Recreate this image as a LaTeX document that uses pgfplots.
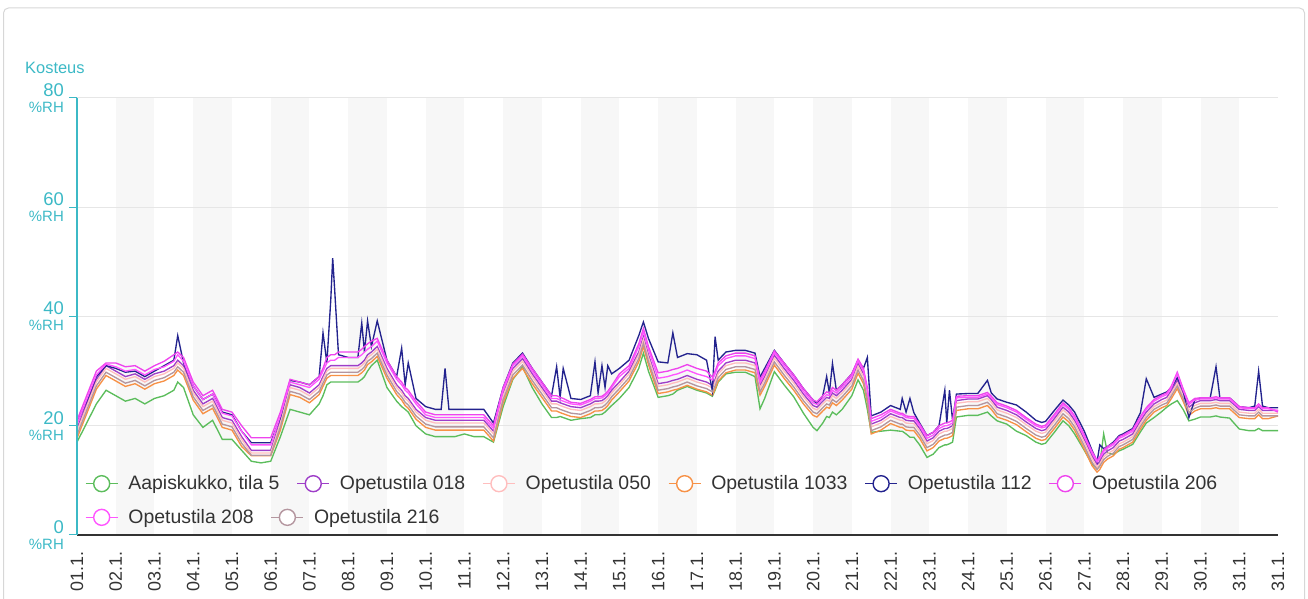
\documentclass[border=0pt]{standalone}
\usepackage{fontspec}
\setmainfont{Liberation Sans}
\usepackage{pgfplots}
\pgfplotsset{compat=1.18}
\usepackage{pgfplotstable}

\definecolor{tealc}{RGB}{60,185,198}
\definecolor{textc}{RGB}{51,51,51}
\definecolor{axisc}{RGB}{51,51,51}
\definecolor{bandc}{RGB}{247,247,247}
\definecolor{gridc}{RGB}{230,230,230}
\definecolor{framec}{RGB}{215,215,215}
\definecolor{cA}{RGB}{92,189,92}
\definecolor{cB}{RGB}{158,62,200}
\definecolor{cC}{RGB}{255,190,190}
\definecolor{cD}{RGB}{247,145,70}
\definecolor{cE}{RGB}{35,35,142}
\definecolor{cF}{RGB}{238,68,238}
\definecolor{cG}{RGB}{255,85,255}
\definecolor{cH}{RGB}{180,150,159}

\pgfplotstableread{
x A B C D E F G H
0.00 17.0 19.5 19.0 17.7 20.5 21.0 20.3 18.3
0.25 20.5 24.0 23.5 22.2 24.5 25.5 24.8 22.8
0.50 24.0 28.5 28.0 26.7 29.0 30.0 29.3 27.3
0.75 26.5 31.0 30.5 29.2 31.0 31.5 31.3 29.8
1.00 25.5 30.0 29.5 28.2 30.5 31.5 30.8 28.8
1.25 24.5 29.0 28.5 27.2 29.8 30.8 30.0 27.8
1.50 25.0 29.5 29.0 27.7 30.0 31.0 30.3 28.3
1.75 24.0 28.5 28.0 26.7 29.0 30.0 29.3 27.3
2.00 25.0 29.5 29.0 27.7 30.0 31.0 30.3 28.3
2.25 25.5 30.0 29.5 28.2 31.0 31.8 30.8 28.8
2.50 26.5 31.0 30.5 29.2 32.0 33.0 31.8 29.8
2.60 28.0 32.0 31.5 30.2 36.5 33.5 33.0 30.8
2.75 27.0 31.0 30.5 29.2 31.5 32.5 31.8 29.8
3.00 22.0 26.5 26.0 24.7 27.3 28.0 27.3 25.3
3.25 19.7 24.0 23.5 22.2 24.8 25.5 24.8 22.8
3.50 21.0 25.0 24.5 23.2 25.8 26.5 25.8 23.8
3.75 17.5 21.5 21.0 19.7 22.5 23.0 22.3 20.3
4.00 17.5 21.0 20.5 19.2 22.0 22.5 21.8 19.8
4.25 15.5 18.0 17.5 16.2 19.0 20.0 19.0 16.8
4.50 13.5 15.5 15.0 14.5 16.9 17.8 16.5 14.6
4.75 13.2 15.5 15.0 14.5 16.9 17.8 16.5 14.6
5.00 13.5 15.5 15.0 14.5 16.9 17.8 16.5 14.6
5.25 18.0 21.0 20.5 19.2 21.5 22.5 21.8 19.8
5.50 23.0 27.5 27.0 25.7 28.3 28.5 28.0 26.3
5.75 22.5 27.0 26.5 25.2 28.0 28.0 27.5 25.8
6.00 22.0 26.0 25.5 24.2 27.5 27.5 27.0 24.8
6.25 24.0 27.5 27.0 25.7 29.0 29.0 28.5 26.3
6.35 25.5 29.0 28.5 27.2 37.0 30.5 30.0 27.8
6.45 27.5 30.5 30.0 28.7 31.5 32.5 31.5 29.3
6.55 28.0 31.0 30.5 29.2 43.0 33.0 32.0 29.8
6.60 28.0 31.0 30.5 29.2 50.7 33.0 32.0 29.8
6.65 28.0 31.0 30.5 29.2 45.0 33.0 32.0 29.8
6.75 28.0 31.0 30.5 29.2 33.0 33.5 32.5 29.8
7.00 28.0 31.0 30.5 29.2 32.5 33.5 32.5 29.8
7.25 28.0 31.0 30.5 29.2 32.5 33.5 32.5 29.8
7.35 28.5 31.5 31.0 29.7 38.8 34.0 33.0 30.3
7.42 29.0 32.0 31.5 30.2 33.5 34.5 33.5 30.8
7.50 30.0 33.0 32.5 31.2 39.2 35.0 34.0 31.8
7.60 31.0 33.5 33.0 31.7 34.5 35.5 34.5 32.3
7.75 32.0 34.5 34.0 32.7 39.2 36.0 35.5 33.3
8.00 27.0 30.5 30.0 28.7 32.0 32.0 31.5 29.3
8.25 24.5 27.5 27.0 25.7 29.0 29.0 28.5 26.3
8.38 23.5 26.5 26.0 24.7 34.2 28.0 27.5 25.3
8.47 23.0 25.5 25.0 23.7 27.5 27.0 26.5 24.3
8.55 22.5 25.0 24.5 23.2 31.5 26.5 26.0 23.8
8.75 20.0 23.0 22.5 21.2 25.0 24.5 24.0 21.8
9.00 18.5 21.5 21.0 19.7 23.5 22.5 22.0 20.3
9.25 18.0 21.0 20.5 19.2 23.0 22.0 21.5 19.8
9.40 18.0 21.0 20.5 19.2 23.0 22.0 21.5 19.8
9.50 18.0 21.0 20.5 19.2 30.5 22.0 21.5 19.8
9.60 18.0 21.0 20.5 19.2 23.0 22.0 21.5 19.8
9.75 18.0 21.0 20.5 19.2 23.0 22.0 21.5 19.8
10.00 18.5 21.0 20.5 19.2 23.0 22.0 21.5 19.8
10.25 18.0 21.0 20.5 19.2 23.0 22.0 21.5 19.8
10.50 18.0 21.0 20.5 19.2 23.0 22.0 21.5 19.8
10.75 17.0 19.0 18.5 17.2 20.5 20.0 19.5 17.8
11.00 23.5 26.0 25.5 24.2 27.0 27.0 26.5 24.8
11.25 28.5 30.5 30.0 28.7 31.5 31.3 31.0 29.3
11.50 30.8 32.3 31.8 30.5 33.3 33.1 32.8 31.1
11.75 27.0 29.5 29.0 27.7 30.5 30.5 30.0 28.3
12.00 24.0 27.0 26.5 25.2 28.0 28.0 27.5 25.8
12.25 21.5 24.5 24.0 22.7 25.5 25.5 25.0 23.3
12.38 21.5 24.5 24.0 22.7 30.8 25.5 25.0 23.3
12.47 21.7 24.2 23.7 22.4 25.2 25.2 24.7 23.0
12.55 21.5 24.0 23.5 22.2 30.5 25.0 24.5 22.8
12.75 21.0 23.5 23.0 21.7 25.0 24.3 24.0 22.3
13.00 21.3 23.3 22.8 21.5 24.8 24.1 23.8 22.1
13.25 21.5 24.0 23.5 22.2 25.5 24.8 24.5 22.8
13.37 22.0 24.5 24.0 22.7 31.7 25.3 25.0 23.3
13.45 22.0 24.5 24.0 22.7 26.0 25.3 25.0 23.3
13.55 22.1 24.6 24.1 22.8 31.0 25.4 25.1 23.4
13.63 22.5 25.0 24.5 23.2 27.0 25.8 25.5 23.8
13.70 23.0 25.5 25.0 23.7 31.0 26.3 26.0 24.3
13.80 23.7 26.5 26.0 24.7 29.5 27.3 27.0 25.3
14.00 25.0 28.0 27.5 26.2 30.5 29.5 29.0 26.8
14.25 27.0 30.0 29.5 28.2 32.0 31.0 30.5 28.8
14.50 30.5 33.5 33.0 31.7 36.5 35.0 34.5 32.3
14.62 33.3 36.3 35.8 34.5 39.0 37.8 37.3 35.1
14.75 30.0 33.0 32.5 31.2 36.0 34.5 34.0 31.8
15.00 25.2 27.7 27.2 25.9 31.7 29.7 28.7 26.5
15.25 25.5 28.0 27.5 26.2 31.5 30.0 29.0 26.8
15.38 25.8 28.3 27.8 26.5 37.0 30.3 29.3 27.1
15.50 26.5 28.5 28.0 26.7 32.5 30.5 29.5 27.3
15.75 27.2 29.2 28.7 27.4 33.2 31.2 30.2 28.0
16.00 26.5 28.5 28.0 26.7 33.0 30.5 29.5 27.3
16.25 26.0 28.0 27.5 26.2 32.0 30.0 29.0 26.8
16.40 25.4 27.4 26.9 25.6 26.4 28.9 28.4 26.2
16.47 26.5 28.5 28.0 26.7 36.3 30.0 29.5 27.3
16.55 28.0 30.0 29.5 28.2 32.0 31.5 31.0 28.8
16.75 29.5 31.5 31.0 29.7 33.5 32.8 32.3 30.3
17.00 29.8 32.0 31.5 30.2 33.8 33.3 32.8 30.8
17.25 29.8 32.0 31.5 30.2 33.8 33.3 32.8 30.8
17.50 29.0 31.5 31.0 29.7 33.3 32.8 32.3 30.3
17.63 23.1 27.4 26.9 25.6 28.9 28.4 27.9 26.2
17.75 25.0 29.0 28.5 27.2 30.5 30.0 29.5 27.8
18.00 29.9 32.9 32.4 31.1 33.8 33.7 33.4 31.7
18.25 27.5 30.5 30.0 28.7 31.5 31.5 31.0 29.3
18.50 25.3 28.3 27.8 26.5 29.3 29.3 28.8 27.1
18.75 22.3 25.8 25.3 24.0 26.8 26.8 26.3 24.6
19.00 19.7 23.7 23.2 21.9 24.7 24.7 24.2 22.5
19.10 19.1 23.4 22.9 21.6 24.0 24.4 23.9 22.2
19.25 20.5 24.5 24.0 22.7 25.5 25.5 25.0 23.3
19.35 21.7 25.2 24.7 23.4 29.0 26.2 25.7 24.0
19.42 21.5 25.0 24.5 23.2 26.0 26.0 25.5 23.8
19.50 22.5 26.0 25.5 24.2 31.4 27.0 26.5 24.8
19.60 22.0 25.5 25.0 23.7 26.5 26.5 26.0 24.3
19.75 23.0 26.5 26.0 24.7 27.5 27.5 27.0 25.3
20.00 25.5 28.5 28.0 26.7 29.5 29.5 29.0 27.3
20.16 28.4 31.4 30.9 29.6 32.0 32.2 31.9 30.2
20.30 26.5 29.5 29.0 27.7 30.5 30.5 30.0 28.3
20.40 23.0 26.0 25.5 24.2 32.5 27.0 26.5 24.8
20.50 18.8 20.3 19.8 18.5 21.8 21.3 20.8 19.1
20.75 19.0 21.0 20.5 19.2 22.5 22.0 21.5 19.8
21.00 19.2 22.2 21.7 20.4 23.7 23.0 22.7 21.0
21.25 19.0 21.5 21.0 19.7 23.0 22.3 22.0 20.3
21.30 19.0 21.5 21.0 19.7 25.0 22.3 22.0 20.3
21.40 18.5 21.0 20.5 19.2 22.5 21.8 21.5 19.8
21.50 17.9 20.9 20.4 19.1 25.0 21.7 21.4 19.7
21.60 17.9 20.9 20.4 19.1 22.4 21.7 21.4 19.7
21.75 16.5 19.5 19.0 17.7 20.5 20.3 20.0 18.3
21.94 14.2 17.2 16.7 15.4 18.2 18.2 17.7 16.0
22.10 14.8 17.8 17.3 16.0 18.8 18.8 18.3 16.6
22.25 16.0 19.0 18.5 17.2 20.0 20.0 19.5 17.8
22.40 16.5 19.5 19.0 17.7 26.5 20.5 20.0 18.3
22.45 16.5 19.5 19.0 17.7 20.5 20.5 20.0 18.3
22.52 16.7 19.7 19.2 17.9 26.5 20.7 20.2 18.5
22.60 17.0 20.0 19.5 18.2 21.0 21.0 20.5 18.8
22.70 21.6 24.6 24.1 22.8 25.8 25.4 25.1 23.4
23.00 21.9 24.9 24.4 23.1 25.9 25.5 25.2 23.7
23.25 21.9 24.9 24.4 23.1 25.9 25.5 25.2 23.7
23.50 22.5 25.5 25.0 23.7 28.3 26.1 25.8 24.3
23.60 21.8 24.8 24.3 23.0 26.0 25.4 25.1 23.6
23.75 20.9 23.4 22.9 21.6 24.9 24.2 23.9 22.2
24.00 20.3 22.8 22.3 21.0 24.3 23.6 23.3 21.6
24.25 19.0 22.0 21.5 20.2 23.8 22.8 22.5 20.8
24.50 18.2 20.7 20.2 18.9 22.5 21.5 21.2 19.5
24.75 17.0 19.5 19.0 17.7 21.0 20.3 20.0 18.3
24.90 16.6 19.1 18.6 17.3 20.6 19.9 19.6 17.9
25.00 16.8 19.3 18.8 17.5 20.8 20.1 19.8 18.1
25.25 19.0 21.5 21.0 19.7 23.0 22.3 22.0 20.3
25.45 20.9 23.4 22.9 21.6 24.7 24.2 23.9 22.2
25.60 20.0 22.5 22.0 20.7 23.8 23.3 23.0 21.3
25.75 18.5 21.0 20.5 19.2 22.5 21.8 21.5 19.8
26.00 15.5 17.5 17.0 15.7 19.0 18.3 18.0 16.3
26.20 13.0 14.5 14.0 12.7 15.5 15.3 15.0 13.3
26.33 12.1 12.9 12.4 11.5 13.4 13.7 13.4 12.0
26.40 13.0 13.5 13.0 12.0 16.5 14.3 14.0 12.6
26.50 18.5 14.8 14.3 13.3 15.8 15.6 15.3 13.8
26.60 15.0 15.4 14.9 13.9 16.2 16.2 15.9 14.4
26.75 14.8 16.0 15.5 14.5 17.0 16.8 16.5 15.0
26.90 15.4 17.2 16.7 15.7 18.2 18.0 17.7 16.2
27.00 15.7 17.5 17.0 16.0 18.5 18.3 18.0 16.5
27.25 16.6 18.5 18.0 17.0 19.5 19.3 19.0 17.5
27.45 18.9 20.9 20.4 19.4 22.4 21.7 21.4 19.9
27.60 20.5 22.5 22.0 21.0 28.6 23.3 23.0 21.5
27.80 21.5 24.0 23.5 22.5 25.2 24.8 24.5 23.0
28.00 22.6 24.8 24.3 23.3 25.8 25.6 25.3 23.8
28.13 23.4 25.2 24.7 23.7 26.2 26.0 25.7 24.2
28.25 24.0 26.5 26.0 25.0 27.0 27.3 27.0 25.5
28.40 24.6 28.3 27.8 26.8 28.8 29.8 29.5 27.3
28.55 23.0 26.0 25.5 24.5 26.5 26.8 26.5 25.0
28.70 20.9 23.4 22.9 21.9 21.5 24.2 23.9 22.4
28.85 21.2 24.2 23.7 22.7 24.7 25.0 24.7 23.2
29.00 21.6 24.6 24.1 23.1 25.1 25.1 24.9 23.6
29.25 21.6 24.6 24.1 23.1 25.1 25.1 24.9 23.6
29.40 21.8 24.8 24.3 23.3 30.8 25.3 25.1 23.8
29.50 21.6 24.6 24.1 23.1 25.1 25.1 24.9 23.6
29.75 21.4 24.6 24.1 23.1 25.1 25.1 24.9 23.6
30.00 19.4 23.0 22.5 21.5 23.5 23.5 23.3 22.0
30.25 19.1 22.8 22.3 21.3 23.3 23.3 23.1 21.8
30.40 19.1 22.8 22.3 21.3 23.6 23.3 23.1 21.8
30.50 19.5 23.5 23.0 22.0 30.0 24.0 23.8 22.5
30.60 19.1 22.8 22.3 21.3 23.6 23.3 23.1 21.8
30.75 19.1 22.8 22.3 21.3 23.3 23.3 23.1 21.8
31.00 19.1 22.8 22.3 21.8 23.3 22.5 22.8 21.8
}\datatable

\pgfplotsset{
  mylegend/.style={
    legend style={draw=none, fill=none, inner sep=0pt, outer sep=0pt,
      font=\fontsize{19.5}{19.5}\selectfont, text=textc,
      nodes={inner sep=0pt},
      /tikz/every odd column/.append style={column sep=10bp},
      /tikz/every even column/.append style={column sep=17bp},
      anchor=south west},
    legend cell align=left,
    legend image code/.code={
      \draw[##1, line width=1.4bp] (0bp,0bp) -- (32bp,0bp);
      \draw[##1, line width=1.4bp, fill=white] (16bp,0bp) circle (8bp);
    },
  },
}

\begin{document}
\begin{tikzpicture}
\useasboundingbox (0bp,0bp) rectangle (1308bp,599bp);
\begin{scope}
\clip (0bp,0bp) rectangle (1308bp,599bp);
\draw[framec, line width=1bp, rounded corners=5bp] (3.5bp,-20bp) rectangle (1304.5bp,591bp);
\end{scope}
\node[anchor=base west, text=tealc, font=\fontsize{16.5}{16.5}\selectfont, inner sep=0pt] at (25bp,525.7bp) {Kosteus};

\begin{axis}[
  at={(77bp,64bp)}, anchor=origin,
  width=1201bp, height=437bp, scale only axis,
  xmin=0, xmax=31, ymin=0, ymax=80,
  axis on top,
  axis x line*=bottom, axis y line*=left,
  axis line style={-},
  x axis line style={draw=axisc, line width=1.2bp},
  y axis line style={draw=tealc, line width=1.5bp},
  xtick={0,1,...,31},
  xticklabels={01.1.,02.1.,03.1.,04.1.,05.1.,06.1.,07.1.,08.1.,09.1.,10.1.,11.1.,12.1.,13.1.,14.1.,15.1.,16.1.,17.1.,18.1.,19.1.,20.1.,21.1.,22.1.,23.1.,24.1.,25.1.,26.1.,27.1.,28.1.,29.1.,30.1.,31.1.,31.1.},
  xtick style={draw=none},
  x tick label style={rotate=90, anchor=east, font=\fontsize{18}{18}\selectfont, text=textc, inner sep=0pt},
  xticklabel shift=8bp,
  ytick={0,20,40,60,80},
  yticklabels={{0\\{\fontsize{15}{16}\selectfont\%RH}},{20\\{\fontsize{15}{16}\selectfont\%RH}},{40\\{\fontsize{15}{16}\selectfont\%RH}},{60\\{\fontsize{15}{16}\selectfont\%RH}},{80\\{\fontsize{15}{16}\selectfont\%RH}}},
  y tick label style={anchor=east, align=right, text=tealc, inner sep=0pt, font=\fontsize{18.5}{16}\selectfont},
  ytick style={draw=tealc, line width=1bp},
  tick align=outside, major tick length=8bp,
  yticklabel shift=5bp,
  mylegend,
  legend columns=6,
  legend style={at={(axis description cs:0.00666,0.0975)}},
]
\fill[bandc] (axis cs:1,0) rectangle (axis cs:2,80);
\fill[bandc] (axis cs:3,0) rectangle (axis cs:4,80);
\fill[bandc] (axis cs:5,0) rectangle (axis cs:6,80);
\fill[bandc] (axis cs:7,0) rectangle (axis cs:8,80);
\fill[bandc] (axis cs:9,0) rectangle (axis cs:10,80);
\fill[bandc] (axis cs:11,0) rectangle (axis cs:12,80);
\fill[bandc] (axis cs:13,0) rectangle (axis cs:14,80);
\fill[bandc] (axis cs:15,0) rectangle (axis cs:16,80);
\fill[bandc] (axis cs:17,0) rectangle (axis cs:18,80);
\fill[bandc] (axis cs:19,0) rectangle (axis cs:20,80);
\fill[bandc] (axis cs:21,0) rectangle (axis cs:22,80);
\fill[bandc] (axis cs:23,0) rectangle (axis cs:24,80);
\fill[bandc] (axis cs:25,0) rectangle (axis cs:26,80);
\fill[bandc] (axis cs:27,0) rectangle (axis cs:28,80);
\fill[bandc] (axis cs:29,0) rectangle (axis cs:30,80);
\draw[gridc, line width=1bp] (axis cs:0,20) -- (axis cs:31,20);
\draw[gridc, line width=1bp] (axis cs:0,40) -- (axis cs:31,40);
\draw[gridc, line width=1bp] (axis cs:0,60) -- (axis cs:31,60);
\draw[gridc, line width=1bp] (axis cs:0,80) -- (axis cs:31,80);

\addplot[cA, line width=1.35bp, no markers] table[x=x, y=A] {\datatable};
\addlegendentry{Aapiskukko, tila 5}
\addplot[cB, line width=1.35bp, no markers] table[x=x, y=B] {\datatable};
\addlegendentry{Opetustila 018}
\addplot[cC, line width=1.35bp, no markers] table[x=x, y=C] {\datatable};
\addlegendentry{Opetustila 050}
\addplot[cD, line width=1.35bp, no markers] table[x=x, y=D] {\datatable};
\addlegendentry{Opetustila 1033}
\addplot[cE, line width=1.35bp, no markers] table[x=x, y=E] {\datatable};
\addlegendentry{Opetustila 112}
\addplot[cF, line width=1.35bp, no markers] table[x=x, y=F] {\datatable};
\addlegendentry{Opetustila 206}
\addplot[cG, line width=1.35bp, no markers] table[x=x, y=G] {\datatable};
\addplot[cH, line width=1.35bp, no markers] table[x=x, y=H] {\datatable};
\end{axis}

\begin{axis}[
  at={(77bp,64bp)}, anchor=origin,
  width=1201bp, height=437bp, scale only axis,
  xmin=0, xmax=31, ymin=0, ymax=80,
  hide axis,
  mylegend,
  legend columns=2,
  legend style={at={(axis description cs:0.00666,0.0205)}},
]
\addlegendimage{cG, line width=1.35bp}
\addlegendentry{Opetustila 208}
\addlegendimage{cH, line width=1.35bp}
\addlegendentry{Opetustila 216}
\end{axis}
\end{tikzpicture}
\end{document}
